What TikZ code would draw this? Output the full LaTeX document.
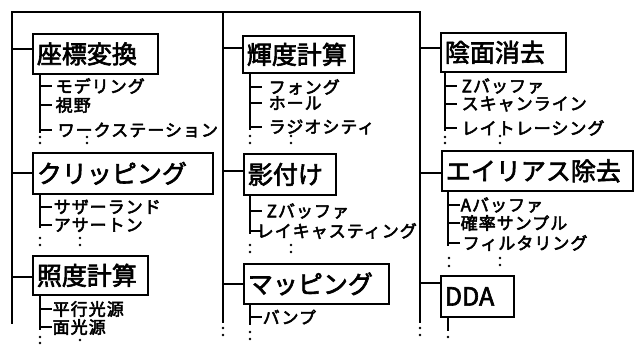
\documentclass[tikz,border=0pt]{standalone}
\usepackage{fontspec}
\newfontfamily\jpbox[FakeBold=2.5]{Noto Sans CJK JP}
\newfontfamily\jpsub[FakeBold=3,LetterSpace=6]{Noto Sans CJK JP}
\tikzset{
  mainline/.style={line width=1.9pt, line cap=rect},
  subline/.style={line width=1.7pt},
  boxnode/.style={draw, line width=1.8pt, anchor=north west, inner xsep=4pt, inner ysep=0pt,
    align=left, font=\jpbox\fontsize{25}{25}\selectfont},
  item/.style={anchor=west, inner sep=0.5pt, font=\jpsub\fontsize{17}{17}\selectfont},
  dotmark/.style={fill=black}
}
\begin{document}
\begin{tikzpicture}[x=1pt,y=-1pt]
\useasboundingbox (0,0) rectangle (635,345);
% main trunk
\coordinate (L1) at (12,12);
\coordinate (L2) at (223,12);
\coordinate (L3) at (420,12);
\coordinate (L1e) at (12,323);
\coordinate (L2e) at (223,322);
\coordinate (L3e) at (420,322);
\draw[mainline] (L1) -- (L3);
\draw[mainline] (L1) -- (L1e);
\draw[mainline] (L2) -- (L2e);
\draw[mainline] (L3) -- (L3e);
\foreach \p in {L2e,L3e}{
  \fill[dotmark] ([yshift=-6pt]\p) circle (1.3pt);
  \fill[dotmark] ([yshift=-13pt]\p) circle (1.3pt);
}

% boxes
\node[boxnode, text width=117pt, minimum height=40pt] (zh) at (32,33) {座標変換};
\node[boxnode, text width=172pt, minimum height=41pt] (cl) at (32,152) {クリッピング};
\node[boxnode, text width=107pt, minimum height=39pt] (sd) at (32,255) {照度計算};
\node[boxnode, text width=103pt, minimum height=37pt] (kd) at (242,35) {輝度計算};
\node[boxnode, text width=84pt, minimum height=41pt] (kg) at (243,153) {影付け};
\node[boxnode, text width=137pt, minimum height=40pt] (mp) at (243,263) {マッピング};
\node[boxnode, text width=117pt, minimum height=39pt] (im) at (440,32) {陰面消去};
\node[boxnode, text width=183pt, minimum height=40pt] (ea) at (441,150) {エイリアス除去};
\node[boxnode, text width=65pt, minimum height=41pt] (dd) at (440,275) {DDA};

% branches from trunk to boxes
\draw[mainline] ([yshift=5pt]zh.west) -- ([yshift=5pt]zh.west -| L1);
\draw[mainline] (cl.west) -- (cl.west -| L1);
\draw[mainline] ([yshift=-2pt]sd.west) -- ([yshift=-2pt]sd.west -| L1);
\draw[mainline] ([yshift=6pt]kd.west) -- ([yshift=6pt]kd.west -| L2);
\draw[mainline] ([yshift=3pt]kg.west) -- ([yshift=3pt]kg.west -| L2);
\draw[mainline] (mp.west) -- (mp.west -| L2);
\draw[mainline] ([yshift=4pt]im.west) -- ([yshift=4pt]im.west -| L3);
\draw[mainline] ([yshift=-2pt]ea.west) -- ([yshift=-2pt]ea.west -| L3);
\draw[mainline] ([yshift=13pt]dd.west) -- ([yshift=13pt]dd.west -| L3);

% sub items
\node[item] (a1) at (55,86) {モデリング};
\node[item] (a2) at (55,105) {視野};
\node[item] (a3) at (57,130) {ワークステーション};
\node[item] (b1) at (53,207) {サザーランド};
\node[item] (b2) at (53,225) {アサートン};
\node[item] (c1) at (52,309) {平行光源};
\node[item] (c2) at (52,327) {面光源};

\node[item] (d1) at (268,87) {フォング};
\node[item] (d2) at (268,103) {ホール};
\node[item] (d3) at (268,127) {ラジオシティ};
\node[item] (e1) at (266,211) {Zバッファ};
\node[item] (e2) at (256,231) {レイキャスティング};
\node[item] (f1) at (262,317) {バンプ};

\node[item] (g1) at (461,86) {Zバッファ};
\node[item] (g2) at (461,104) {スキャンライン};
\node[item] (g3) at (461,128) {レイトレーシング};
\node[item] (h1) at (460,205) {Aバッファ};
\node[item] (h2) at (460,223) {確率サンプル};
\node[item] (h3) at (462,243) {フィルタリング};

% sub verticals
\coordinate (s1) at (40,0);
\coordinate (s2) at (250,0);
\coordinate (s3) at (445,0);
\coordinate (s4) at (448,0);
\draw[subline] (zh.south -| s1) -- ([yshift=-3pt]a3.west -| s1);
\draw[subline] (cl.south -| s1) -- ([yshift=-3pt]b2.west -| s1);
\draw[subline] (sd.south -| s1) -- ([yshift=-3pt]c2.west -| s1);
\draw[subline] (kd.south -| s2) -- ([yshift=-3pt]d3.west -| s2);
\draw[subline] (kg.south -| s2) -- ([yshift=-3pt]e2.west -| s2);
\draw[subline] (mp.south -| s2) -- ([yshift=-8pt]f1.west -| s2);
\draw[subline] (im.south -| s3) -- ([yshift=-3pt]g3.west -| s3);
\draw[subline] (ea.south -| s4) -- ([yshift=-3pt]h3.west -| s4);
\coordinate (ddend) at (448,331);
\draw[subline] (dd.south -| s4) -- (ddend);
\fill[dotmark] ([yshift=-6pt]ddend) circle (1.3pt);

% ticks
\foreach \n/\s in {a1/s1,a2/s1,a3/s1,b1/s1,b2/s1,c1/s1,c2/s1,
                   d1/s2,d2/s2,d3/s2,e1/s2,e2/s2,f1/s2,
                   g1/s3,g2/s3,g3/s3,h1/s4,h2/s4,h3/s4}{
  \draw[subline] (\n.west -| \s) -- ([xshift=12pt]\n.west -| \s);
}

% continuation dots
\foreach \x/\y in {40/137,40/143,87/137,87/143,
                   40/238,40/245,80/238,80/245,
                   40/337,40/343,80/340,
                   250/136,250/143,291/136,291/143,
                   250/245,250/252,291/245,291/252,
                   250/332,250/339,
                   445/137,445/143,500/136,500/143,
                   449/258,449/266,500/258,500/265}{
  \fill[dotmark] (\x,\y) circle (1.3pt);
}
\end{tikzpicture}
\end{document}
